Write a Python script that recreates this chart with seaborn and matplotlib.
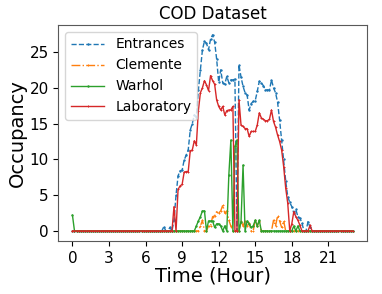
import numpy as np
import matplotlib
matplotlib.use('Agg')
import matplotlib.pyplot as plt
import seaborn as sns

# occupancy sampled every 10 minutes, 00:00 .. 23:00 (one row per hour)
entrances = [
    0, 0, 0, 0, 0, 0,
    0, 0, 0, 0, 0, 0,
    0, 0, 0, 0, 0, 0,
    0, 0, 0, 0, 0, 0,
    0, 0, 0, 0, 0, 0,
    0, 0, 0, 0, 0, 0,
    0, 0, 0, 0, 0, 0,
    0, 0, 0, 0.6, 0, 0,
    0.5, 0, 1.5, 5.0, 7.7, 8.4,
    8.5, 9.9, 10.6, 11.3, 14.1, 15.0,
    16.2, 15.9, 19.7, 22.5, 25.3, 26.5,
    26.2, 25.3, 26.8, 27.4, 26.4, 24.0,
    20.8, 22.5, 20.7, 20.5, 21.6, 20.7,
    21.1, 21.1, 21.2, 0, 23.2, 21.5,
    20.2, 19.3, 19.0, 16.9, 17.8, 18.1,
    18.2, 19.5, 20.9, 20.7, 20.3, 19.7,
    19.7, 19.7, 21.1, 20.0, 19.3, 18.0,
    15.5, 12.7, 10.0, 7.0, 4.8, 4.0,
    3.4, 2.5, 3.0, 2.0, 1.8, 1.1,
    0, 0, 1.3, 0.5, 0, 0,
    0, 0, 0, 0, 0, 0,
    0, 0, 0, 0, 0, 0,
    0, 0, 0, 0, 0, 0,
    0,
]
clemente = [
    0, 0, 0, 0, 0, 0,
    0, 0, 0, 0, 0, 0,
    0, 0, 0, 0, 0, 0,
    0, 0, 0, 0, 0, 0,
    0, 0, 0, 0, 0, 0,
    0, 0, 0, 0, 0, 0,
    0, 0, 0, 0, 0, 0,
    0, 0, 0, 0, 0, 0,
    0, 0, 0, 0, 0, 0,
    0, 0, 0, 0, 0, 0,
    0, 0, 0, 0.7, 1.5, 0,
    0, 0.7, 0.7, 2.0, 2.1, 2.7,
    2.5, 2.8, 3.6, 2.5, 2.8, 1.5,
    0.7, 0, 0, 0, 0, 1.4,
    0.7, 1.4, 0.7, 1.1, 0, 0,
    1.5, 0.7, 1.4, 0, 0, 0,
    0, 0, 0, 1.5, 0.7, 2.1,
    1.4, 0.5, 1.4, 0, 0, 0,
    0, 0, 0, 0, 0, 0,
    0, 0, 0, 0, 0, 0,
    0, 0, 0, 0, 0, 0,
    0, 0, 0, 0, 0, 0,
    0, 0, 0, 0, 0, 0,
    0,
]
warhol = [
    2.2, 0, 0, 0, 0, 0,
    0, 0, 0, 0, 0, 0,
    0, 0, 0, 0, 0, 0,
    0, 0, 0, 0, 0, 0,
    0, 0, 0, 0, 0, 0,
    0, 0, 0, 0, 0, 0,
    0, 0, 0, 0, 0, 0,
    0, 0, 0, 0, 0, 0,
    0, 0, 0, 0, 0, 0,
    0, 0, 0, 0, 0, 0,
    0, 0.7, 1.4, 2.0, 2.8, 2.8,
    0, 1.4, 1.4, 1.4, 0.5, 1.0,
    1.0, 0.7, 0, 0.7, 0, 7.8,
    12.7, 0, 11.8, 12.7, 0, 1.3,
    9.2, 0, 1.4, 1.0, 0.5, 0.7,
    1.5, 0.7, 1.5, 0, 0, 0,
    0, 0, 0, 0, 0, 0,
    0, 0, 0, 0, 0, 0,
    0, 0.7, 0, 0.7, 0, 0,
    0, 0, 0, 0, 0, 0,
    0, 0, 0, 0, 0, 0,
    0, 0, 0, 0, 0, 0,
    0, 0, 0, 0, 0, 0,
    0,
]
laboratory = [
    0, 0, 0, 0, 0, 0,
    0, 0, 0, 0, 0, 0,
    0, 0, 0, 0, 0, 0,
    0, 0, 0, 0, 0, 0,
    0, 0, 0, 0, 0, 0,
    0, 0, 0, 0, 0, 0,
    0, 0, 0, 0, 0, 0,
    0, 0, 0, 0, 0, 0,
    0, 0, 3.4, 0, 5.8, 6.3,
    6.5, 8.2, 8.3, 8.3, 11.2, 11.3,
    12.6, 12.0, 16.8, 19.3, 20.0, 21.0,
    20.4, 19.6, 21.7, 21.0, 20.5, 18.3,
    17.4, 16.9, 17.4, 16.2, 16.8, 16.9,
    16.9, 17.4, 0, 0, 18.3, 14.8,
    14.6, 14.3, 14.3, 13.2, 13.9, 13.9,
    13.9, 14.8, 16.5, 15.8, 15.6, 15.4,
    15.4, 15.6, 16.9, 15.3, 14.5, 13.4,
    12.5, 11.3, 9.0, 6.0, 3.9, 0,
    1.0, 2.7, 2.0, 1.5, 0.8, 0,
    0, 0, 0, 0.8, 0, 0,
    0, 0, 0, 0, 0, 0,
    0, 0, 0, 0, 0, 0,
    0, 0, 0, 0, 0, 0,
    0,
]

names = ['Entrances', 'Clemente', 'Warhol', 'Laboratory']
hours = np.arange(len(entrances)) / 6

fig = plt.figure(figsize=(3.82, 2.94), dpi=100)
ax = fig.add_axes([0.153, 0.181, 0.807, 0.734])

styles = [('tab:blue', '--', '.'), ('tab:orange', '-.', '+'),
          ('tab:green', '-', '.'), ('tab:red', '-', '+')]
for name, vals, (c, ls, mk) in zip(names, [entrances, clemente, warhol, laboratory], styles):
    # seaborn paints marker edges white by default, keep them in the line colour
    sns.lineplot(x=hours, y=vals, ax=ax, color=c, linestyle=ls, marker=mk,
                 markersize=2, markeredgewidth=0.7, markeredgecolor=c, lw=1.0)

ax.set_xticks(range(0, 22, 3))
ax.set_yticks(range(0, 26, 5))
ax.tick_params(labelsize=11)
ax.set_xlabel('Time (Hour)', fontsize=14, labelpad=1)
ax.set_ylabel('Occupancy', fontsize=14, labelpad=2)
ax.set_title('COD Dataset', fontsize=12, pad=4)
for s in ax.spines.values():
    s.set_color('0.35')
ax.legend(ax.lines[:4], names, loc='upper left', fontsize=10, handlelength=2.4)

fig.savefig('out.png', dpi=100)
